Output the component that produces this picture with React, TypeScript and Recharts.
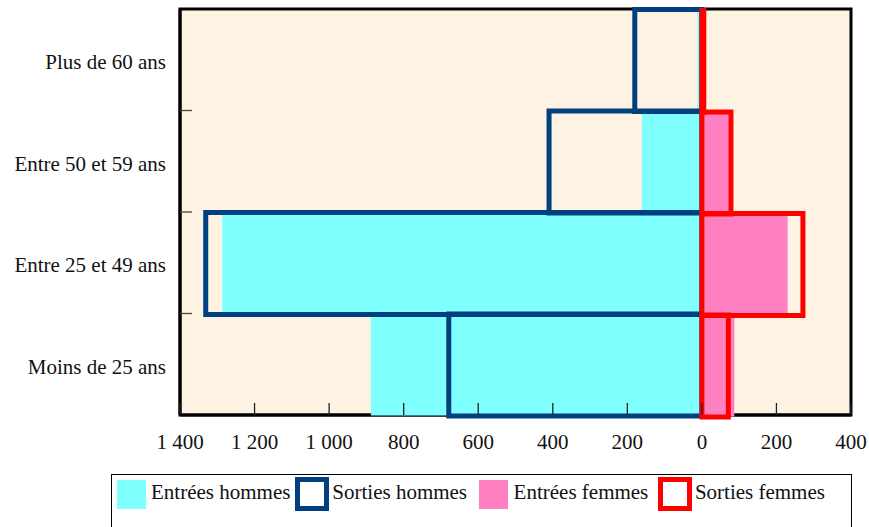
import { Bar, BarChart, CartesianGrid, Legend, ReferenceArea, XAxis, YAxis } from 'recharts'

const AGES = ['Plus de 60 ans', 'Entre 50 et 59 ans', 'Entre 25 et 49 ans', 'Moins de 25 ans']
// hommes sur la gauche (valeurs négatives), femmes à droite
const ENTREES_HOMMES = [-12, -161, -1287, -888]
const SORTIES_HOMMES = [-180, -410, -1331, -679]
const ENTREES_FEMMES = [4, 72, 230, 87]
const SORTIES_FEMMES = [5, 78, 271, 71]
const X_TICKS = [-1400, -1200, -1000, -800, -600, -400, -200, 0, 200, 400]

const SERIES = [
  { key: 'entreesHommes', name: 'Entrées hommes', color: '#80FFFF', outline: false },
  { key: 'sortiesHommes', name: 'Sorties hommes', color: '#004080', outline: true },
  { key: 'entreesFemmes', name: 'Entrées femmes', color: '#FF80C0', outline: false },
  { key: 'sortiesFemmes', name: 'Sorties femmes', color: '#FF0000', outline: true },
]

const data = AGES.map((age, i) => ({
  age,
  entreesHommes: ENTREES_HOMMES[i],
  sortiesHommes: SORTIES_HOMMES[i],
  entreesFemmes: ENTREES_FEMMES[i],
  sortiesFemmes: SORTIES_FEMMES[i],
}))

const FONT = "'Liberation Serif', 'Times New Roman', serif"
const FRAME = { stroke: '#000', strokeWidth: 3 }

const formatTick = (v: number) => {
  const a = Math.abs(v)
  return a >= 1000 ? `${Math.floor(a / 1000)} ${String(a % 1000).padStart(3, '0')}` : String(a)
}

const XTick = (props: any) => {
  const { x, y, payload } = props
  return (
    <g>
      <line x1={x} x2={x} y1={y} y2={y - 12} stroke="#222" strokeWidth={1.3} />
      <text x={x} y={y + 34} textAnchor="middle" fontSize={21} fontFamily={FONT} fill="#111">
        {formatTick(payload.value)}
      </text>
    </g>
  )
}

const YTick = (props: any) => {
  const { x, y, payload, index } = props
  const half = payload.offset || 50.75
  return (
    <g>
      <text x={x - 14} y={y + 9.5} textAnchor="end" fontSize={21} fontFamily={FONT} fill="#111">
        {payload.value}
      </text>
      {index < AGES.length - 1 && (
        <line x1={x} x2={x + 12} y1={y + half} y2={y + half} stroke="#444" strokeWidth={1.3} />
      )}
    </g>
  )
}

const LegendBox = () => (
  <div
    style={{
      boxSizing: 'border-box',
      height: 60,
      borderTop: '1.5px solid #000',
      borderLeft: '1.5px solid #000',
      borderRight: '1.5px solid #000',
      padding: '4.5px 0 0 4.5px',
      display: 'flex',
      fontFamily: FONT,
      fontSize: 21,
      color: '#111',
    }}
  >
    {SERIES.map((s) => (
      <div key={s.key} style={{ position: 'relative', width: 181.3, height: 29, flex: 'none' }}>
        {s.outline ? (
          <div
            style={{
              position: 'absolute',
              left: -2.5,
              top: -2.5,
              width: 34,
              height: 34,
              boxSizing: 'border-box',
              border: `5px solid ${s.color}`,
            }}
          />
        ) : (
          <div style={{ position: 'absolute', left: 0, top: 0, width: 29, height: 29, background: s.color }} />
        )}
        <div style={{ position: 'absolute', left: 34.5, top: -2, lineHeight: '29px', whiteSpace: 'nowrap' }}>
          {s.name}
        </div>
      </div>
    ))}
  </div>
)

export default function App() {
  return (
    <div style={{ position: 'absolute', left: 0, top: 0, width: 869, height: 527, overflow: 'hidden', background: '#fff' }}>
      <BarChart
        width={869}
        height={527}
        data={data}
        layout="vertical"
        margin={{ top: 9, right: 18, bottom: 82, left: 0 }}
        barCategoryGap={0}
        barGap="-100%"
      >
        <CartesianGrid horizontal={false} vertical={false} fill="#FEF3E2" />
        <XAxis
          type="number"
          domain={[-1400, 400]}
          ticks={X_TICKS}
          height={30}
          tickSize={0}
          tickMargin={0}
          tickLine={false}
          axisLine={FRAME}
          tick={<XTick />}
        />
        <YAxis
          type="category"
          dataKey="age"
          width={180}
          tickSize={0}
          tickMargin={0}
          tickLine={false}
          axisLine={FRAME}
          tick={<YTick />}
        />
        <ReferenceArea x1={-1400} x2={400} fill="none" stroke="#000" strokeWidth={3} ifOverflow="visible" />
        {SERIES.map((s) => (
          <Bar
            key={s.key}
            dataKey={s.key}
            name={s.name}
            fill={s.outline ? 'none' : s.color}
            stroke={s.outline ? s.color : 'none'}
            strokeWidth={s.outline ? 5 : 0}
            isAnimationActive={false}
            zIndex={600}
          />
        ))}
        <Legend
          layout="vertical"
          align="center"
          verticalAlign="middle"
          wrapperStyle={{ top: 474, left: 111, width: 741, height: 60 }}
          content={() => <LegendBox />}
        />
      </BarChart>
    </div>
  )
}
